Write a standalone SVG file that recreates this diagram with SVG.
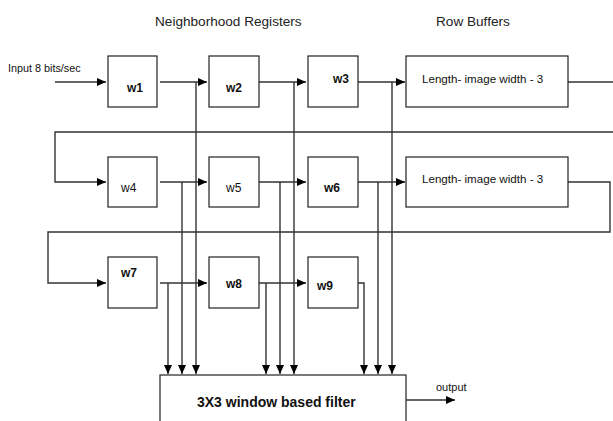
<svg xmlns="http://www.w3.org/2000/svg" width="613" height="421" viewBox="0 0 613 421">
<defs>
<marker id="ah" markerWidth="9" markerHeight="8" refX="9" refY="4" orient="auto" markerUnits="userSpaceOnUse">
<path d="M0,0 L9,4 L0,8 Z" fill="#000"/>
</marker>
<style>
.box{fill:#fff;stroke:#222;stroke-width:1.2}
.ln{fill:none;stroke:#333;stroke-width:1.4}
.t{font-family:"Liberation Sans",Arial,sans-serif;fill:#111}
.lab{font-size:12px;font-weight:bold}
.hd{font-size:13.6px;fill:#222}
.rb{font-size:11.6px}
</style>
</defs>
<rect width="613" height="421" fill="#fff"/>
<text class="t hd" x="155" y="26">Neighborhood Registers</text>
<text class="t hd" x="436" y="26">Row Buffers</text>
<text class="t" x="8" y="72" font-size="10.8">Input 8 bits/sec</text>

<g id="connectors">
<path class="ln" d="M55,82 H106" marker-end="url(#ah)"/>
<path class="ln" d="M160,82 H207" marker-end="url(#ah)"/>
<path class="ln" d="M259,82 H306" marker-end="url(#ah)"/>
<path class="ln" d="M358,82 H405" marker-end="url(#ah)"/>
<path class="ln" d="M568,82 H613"/>
<path class="ln" d="M613,132 H55 V182 H106" marker-end="url(#ah)"/>
<path class="ln" d="M160,182 H207" marker-end="url(#ah)"/>
<path class="ln" d="M259,182 H306" marker-end="url(#ah)"/>
<path class="ln" d="M358,182 H405" marker-end="url(#ah)"/>
<path class="ln" d="M568,182 H610 V232 H48 V283 H106" marker-end="url(#ah)"/>
<path class="ln" d="M160,283 H207" marker-end="url(#ah)"/>
<path class="ln" d="M259,283 H306" marker-end="url(#ah)"/>
<path class="ln" d="M196,82 V374" marker-end="url(#ah)"/>
<path class="ln" d="M294,82 V374" marker-end="url(#ah)"/>
<path class="ln" d="M392,82 V374" marker-end="url(#ah)"/>
<path class="ln" d="M182,182 V374" marker-end="url(#ah)"/>
<path class="ln" d="M280,182 V374" marker-end="url(#ah)"/>
<path class="ln" d="M378,182 V374" marker-end="url(#ah)"/>
<path class="ln" d="M168,283 V374" marker-end="url(#ah)"/>
<path class="ln" d="M266,283 V374" marker-end="url(#ah)"/>
<path class="ln" d="M358,283 H364 V374" marker-end="url(#ah)"/>
<path class="ln" d="M406,400 H455" marker-end="url(#ah)"/>
</g>

<g id="w1"><rect class="box" x="108" y="56" width="49" height="51"/><text class="t lab" x="127" y="92">w1</text></g>
<g id="w2"><rect class="box" x="209" y="56" width="50" height="51"/><text class="t lab" x="226" y="92">w2</text></g>
<g id="w3"><rect class="box" x="308" y="56" width="50" height="51"/><text class="t lab" x="333" y="83">w3</text></g>
<g id="rb1"><rect class="box" x="406" y="56" width="162" height="51"/><text class="t rb" x="422" y="83">Length- image width - 3</text></g>

<g id="w4"><rect class="box" x="108" y="157" width="49" height="50"/><text class="t" x="121" y="192" font-size="12">w4</text></g>
<g id="w5"><rect class="box" x="209" y="157" width="50" height="50"/><text class="t" x="226" y="192" font-size="12">w5</text></g>
<g id="w6"><rect class="box" x="308" y="157" width="50" height="50"/><text class="t lab" x="324" y="192">w6</text></g>
<g id="rb2"><rect class="box" x="406" y="157" width="162" height="50"/><text class="t rb" x="422" y="183">Length- image width - 3</text></g>

<g id="w7"><rect class="box" x="108" y="257" width="49" height="51"/><text class="t lab" x="121" y="277">w7</text></g>
<g id="w8"><rect class="box" x="209" y="257" width="50" height="51"/><text class="t lab" x="226" y="288">w8</text></g>
<g id="w9"><rect class="box" x="308" y="257" width="50" height="51"/><text class="t lab" x="317" y="290">w9</text></g>

<g id="filter"><rect class="box" x="160" y="375" width="246" height="60"/><text class="t" x="197" y="407" font-size="14" font-weight="bold">3X3 window based filter</text></g>
<text class="t" x="436" y="391" font-size="11">output</text>
</svg>
